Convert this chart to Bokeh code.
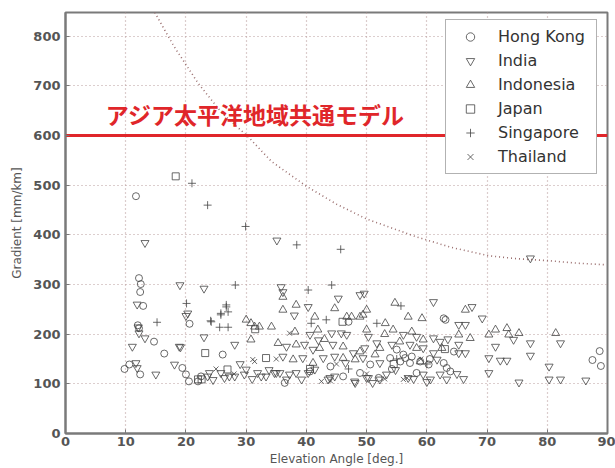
from bokeh.plotting import figure
from bokeh.models import Legend, LegendItem, Label, Range1d, FixedTicker
from bokeh.embed import file_html
from bokeh.resources import INLINE

# ---------------- data ----------------
x_min, x_max = 0, 90
y_min, y_max = 0, 848
x_ticks = [0, 10, 20, 30, 40, 50, 60, 70, 80, 90]
y_ticks = [0, 100, 200, 300, 400, 500, 600, 700, 800]

model_gradient = 600
model_label = "アジア太平洋地域共通モデル"

curve_elev = [14.5, 18, 22, 26, 30.3, 34.2, 40, 45, 50, 58.3, 64, 70.3, 75, 80.3, 85, 89.5]
curve_grad = [855, 780, 706, 645, 598, 548, 498, 462, 432, 396, 375, 358, 352, 348, 343, 340]

hk_elev = [9.8, 10.6, 11.7, 12.2, 12.5, 12.4, 12.9, 12.4, 12.0, 14.7, 16.4, 19.4, 20.0, 20.5,
           22.0, 20.6, 22.5, 26.1, 36.4, 46.1, 47.0, 62.8, 63.1, 62.8, 63.3, 63.9, 87.5, 88.7,
           88.9, 40.6, 50.6, 55.6, 57.2, 58.3, 53.9, 48.9, 56.4, 60.3, 55.0, 56.1, 57.5, 58.9,
           54.2, 12.2, 44.0, 52.0, 60.5, 64.5]
hk_grad = [130, 139, 478, 313, 301, 285, 257, 119, 218, 185, 161, 132, 119, 105,
           105, 221, 115, 159, 102, 115, 225, 232, 229, 142, 132, 125, 148, 166,
           136, 125, 139, 145, 142, 122, 152, 122, 152, 139, 169, 159, 155, 145,
           130, 212, 135, 112, 150, 165]

india_elev = [13.2, 11.9, 12.1, 12.2, 13.2, 11.1, 19.0, 19.1, 20.0, 11.7, 11.9, 15.0, 18.1,
              23.0, 20.3, 23.0, 28.1, 23.9, 23.6, 35.1, 77.2, 26.4, 28.1, 29.7, 32.5, 34.7,
              37.2, 39.2, 40.3, 43.9, 48.0, 50.3, 35.8, 36.1, 40.3, 45.3, 48.9, 49.6, 61.1,
              67.5, 69.2, 65.3, 66.4, 71.4, 65.3, 66.4, 70.3, 72.2, 73.3, 77.2, 77.2, 82.2,
              74.4, 66.1, 70.3, 75.3, 80.3, 80.3, 82.2, 86.4, 63.3, 65.3, 40.6, 44.2, 45.8,
              46.7, 50.3, 56.1, 58.3, 61.1, 62.2, 36.7, 39.7, 41.1, 44.4, 47.8, 49.7, 51.7,
              54.2, 57.2, 59.4, 61.1, 36.1, 39.4, 42.8, 44.7, 49.4, 52.2, 61.7, 35.6, 36.7,
              38.3, 41.4, 43.6, 44.7, 48.1, 50.0, 52.2, 53.3, 56.9, 59.4, 60.6, 62.2, 25.8,
              27.2, 30.0, 31.9, 33.3, 35.0, 18.9, 24.5, 29.0, 31.0, 33.8, 38.0, 42.0, 46.5,
              51.0, 54.8, 57.8, 60.0, 63.5, 65.0]
india_grad = [384, 260, 214, 202, 192, 175, 299, 174, 237, 142, 132, 119, 139,
              292, 242, 194, 179, 122, 115, 389, 353, 112, 115, 119, 115, 122,
              119, 109, 122, 112, 105, 112, 295, 285, 255, 272, 279, 282, 265,
              255, 232, 219, 219, 175, 162, 162, 152, 147, 147, 157, 182, 182,
              189, 110, 122, 103, 135, 109, 109, 107, 109, 179, 199, 202, 202,
              199, 195, 199, 195, 192, 185, 175, 179, 169, 179, 162, 172, 182,
              179, 179, 172, 162, 155, 152, 152, 155, 152, 142, 149, 122, 109,
              122, 129, 109, 115, 102, 112, 109, 119, 112, 119, 109, 119, 122,
              115, 129, 122, 115, 122, 175, 108, 140, 110, 128, 238, 188, 142,
              102, 128, 110, 104, 190, 120]

indo_elev = [30.0, 30.8, 30.8, 34.2, 36.1, 38.3, 41.4, 44.7, 46.7, 50.0, 53.1, 54.7, 56.9,
             59.2, 66.4, 65.3, 67.2, 70.3, 71.4, 73.3, 73.6, 75.3, 81.4, 47.5, 48.9, 49.4,
             38.1, 41.9, 50.0, 54.4, 57.5, 59.4, 35.3, 38.3, 42.2, 46.1, 48.9, 52.2, 58.3,
             62.5, 37.8, 41.1, 46.1, 48.1, 51.4, 58.9, 32.2, 31.4, 36.1, 43.0, 55.5, 53.0]
indo_grad = [229, 222, 189, 215, 275, 259, 235, 252, 235, 249, 222, 263, 235,
             232, 249, 199, 192, 199, 209, 212, 199, 202, 202, 235, 235, 239,
             205, 209, 209, 209, 205, 189, 182, 179, 172, 175, 165, 172, 172,
             172, 149, 142, 152, 149, 159, 145, 215, 215, 249, 190, 185, 200]

japan_elev = [18.3, 23.2, 22.0, 22.6, 33.3, 26.9, 40.6, 46.0, 54.5, 63.0, 31.5]
japan_grad = [518, 162, 109, 109, 152, 129, 130, 225, 140, 170, 210]

sing_elev = [21.0, 23.6, 29.9, 38.4, 45.7, 15.2, 20.1, 24.1, 25.8, 26.7, 27.0, 25.6, 27.0,
             28.2, 40.3, 44.2, 55.7, 40.8, 43.3, 51.7, 24.2, 26.7, 25.8, 47.0, 55.0, 60.0]
sing_grad = [504, 460, 417, 380, 371, 224, 262, 227, 239, 255, 245, 214, 214,
             299, 289, 299, 257, 222, 229, 222, 225, 259, 242, 130, 150, 140]

thai_elev = [31.4, 31.1, 42.5, 56.1, 56.7, 37.2, 28.0, 25.0, 50.0, 45.0, 53.0, 59.0, 35.0, 44.0]
thai_grad = [145, 149, 105, 109, 112, 202, 120, 130, 120, 140, 110, 150, 150, 106]

# ---------------- figure ----------------
p = figure(width=615, height=468, output_backend="svg", toolbar_location=None,
           x_range=Range1d(x_min, x_max), y_range=Range1d(y_min, y_max),
           min_border_left=65, min_border_right=8, min_border_top=12, min_border_bottom=32)
p.background_fill_color = "white"
p.border_fill_color = "white"
p.outline_line_color = "#7a7a7a"
p.outline_line_width = 2

for ax in (p.xaxis[0], p.yaxis[0]):
    ax.axis_line_color = "#7a7a7a"
    ax.axis_line_width = 2
    ax.major_tick_in = 4
    ax.major_tick_out = 0
    ax.minor_tick_line_color = None
    ax.major_tick_line_color = "#7a7a7a"
    ax.major_label_text_font = "DejaVu Sans"
    ax.major_label_text_font_size = "13px"
    ax.major_label_text_font_style = "bold"
    ax.major_label_text_color = "#555555"
    ax.axis_label_text_font = "DejaVu Sans"
    ax.axis_label_text_font_size = "12px"
    ax.axis_label_text_font_style = "normal"
    ax.axis_label_text_color = "#555555"

p.xaxis.ticker = FixedTicker(ticks=x_ticks)
p.yaxis.ticker = FixedTicker(ticks=y_ticks)
p.xaxis.axis_label = "Elevation Angle [deg.]"
p.yaxis.axis_label = "Gradient [mm/km]"
p.xaxis.major_label_standoff = 3
p.yaxis.major_label_standoff = 5
p.xaxis.axis_label_standoff = 3
p.yaxis.axis_label_standoff = 6

p.grid.grid_line_color = "#b89c9c"
p.grid.grid_line_dash = "1 3"
p.grid.grid_line_width = 1.2

# dotted curve
p.line(curve_elev, curve_grad, line_color="#9a6e6e", line_dash="1 3", line_width=1.6)

# red model line + label
p.line([x_min, x_max], [model_gradient, model_gradient], line_color="#e0262a", line_width=3)
p.add_layout(Label(x=6.7, y=610, text=model_label, text_color="#e0262a",
                   text_font="Noto Sans CJK JP", text_font_size="23px",
                   text_font_style="bold", text_baseline="bottom"))

mk = dict(fill_color=None, line_color="#454545", line_alpha=0.8, line_width=1)
r_hk = p.scatter(hk_elev, hk_grad, marker="circle", size=7, **mk)
r_in = p.scatter(india_elev, india_grad, marker="inverted_triangle", size=8, **mk)
r_id = p.scatter(indo_elev, indo_grad, marker="triangle", size=8, **mk)
r_jp = p.scatter(japan_elev, japan_grad, marker="square", size=7, **mk)
r_sg = p.scatter(sing_elev, sing_grad, marker="cross", size=8, **mk)
r_th = p.scatter(thai_elev, thai_grad, marker="x", size=7, **mk)

legend = Legend(items=[
    LegendItem(label="Hong Kong", renderers=[r_hk]),
    LegendItem(label="India", renderers=[r_in]),
    LegendItem(label="Indonesia", renderers=[r_id]),
    LegendItem(label="Japan", renderers=[r_jp]),
    LegendItem(label="Singapore", renderers=[r_sg]),
    LegendItem(label="Thailand", renderers=[r_th]),
], location=(380, 259))
legend.background_fill_color = "white"
legend.background_fill_alpha = 1
legend.border_line_color = "#666666"
legend.border_line_width = 1.5
legend.label_text_font = "DejaVu Sans"
legend.label_text_font_size = "16px"
legend.label_text_color = "#333333"
legend.padding = 6
legend.spacing = 3
legend.label_height = 21
legend.glyph_height = 21
legend.glyph_width = 36
legend.label_standoff = 10
legend.label_width = 92
legend.margin = 0
p.add_layout(legend, "center")

open("out.html", "w").write(file_html(p, INLINE))
